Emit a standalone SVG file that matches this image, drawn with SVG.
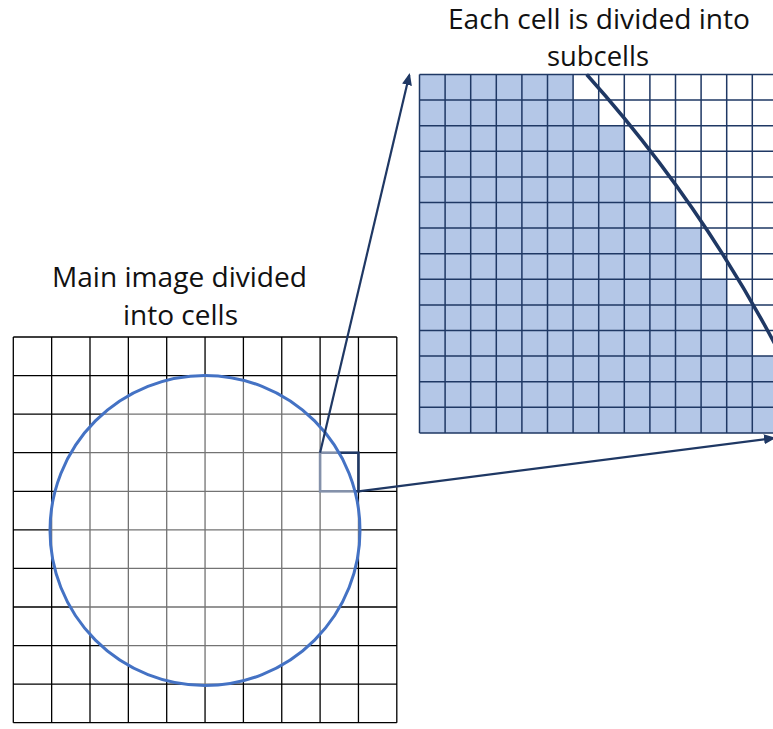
<svg xmlns="http://www.w3.org/2000/svg" width="773" height="729" viewBox="0 0 773 729">
<style>
.lbl{font-family:"Open Sans","Liberation Sans",sans-serif;font-size:26.5px;fill:#111;text-anchor:middle}
.g-main{stroke:#000;stroke-width:1.3;fill:none}
.g-sub{stroke:#1F3864;stroke-width:1.5;fill:none}
.conn{stroke:#1F3864;stroke-width:2.2;fill:none}
</style>
<defs>
<marker id="ah" viewBox="0 0 12 10" refX="10" refY="5" markerWidth="12" markerHeight="10" markerUnits="userSpaceOnUse" orient="auto">
<path d="M0,0 L12,5 L0,10 z" fill="#1F3864"/>
</marker>
</defs>
<rect width="773" height="729" fill="#fff"/>

<g id="label-sub">
<text class="lbl" x="599" y="28.6" textLength="302" lengthAdjust="spacingAndGlyphs">Each cell is divided into</text>
<text class="lbl" x="598" y="66" textLength="102" lengthAdjust="spacingAndGlyphs">subcells</text>
</g>
<g id="label-main">
<text class="lbl" x="179.5" y="286.5" textLength="255" lengthAdjust="spacingAndGlyphs">Main image divided</text>
<text class="lbl" x="180.5" y="325" textLength="115" lengthAdjust="spacingAndGlyphs">into cells</text>
</g>

<g id="detail-grid">
<polygon fill="#B4C7E7" points="419.5,74.5 573.1,74.5 573.1,100.1 598.7,100.1 598.7,125.7 624.3,125.7 624.3,151.3 649.9,151.3 649.9,202.5 675.5,202.5 675.5,228.1 701.1,228.1 701.1,279.3 726.7,279.3 726.7,304.9 752.3,304.9 752.3,356.1 777.9,356.1 777.9,432.9 419.5,432.9"/>
<path class="g-sub" d="M419.5 74.5V432.9M445.1 74.5V432.9M470.7 74.5V432.9M496.3 74.5V432.9M521.9 74.5V432.9M547.5 74.5V432.9M573.1 74.5V432.9M598.7 74.5V432.9M624.3 74.5V432.9M649.9 74.5V432.9M675.5 74.5V432.9M701.1 74.5V432.9M726.7 74.5V432.9M752.3 74.5V432.9M777.9 74.5V432.9
M419.5 74.5H777.9M419.5 100.1H777.9M419.5 125.7H777.9M419.5 151.3H777.9M419.5 176.9H777.9M419.5 202.5H777.9M419.5 228.1H777.9M419.5 253.7H777.9M419.5 279.3H777.9M419.5 304.9H777.9M419.5 330.5H777.9M419.5 356.1H777.9M419.5 381.7H777.9M419.5 407.3H777.9M419.5 432.9H777.9"/>
<path d="M586.7 74.5 A1356 1356 0 0 1 778 350" fill="none" stroke="#1F3864" stroke-width="3.5"/>
</g>

<g id="main-grid">
<path class="g-main" d="M13.3 337V722.7M51.65 337V722.7M90 337V722.7M128.35 337V722.7M166.7 337V722.7M205.05 337V722.7M243.4 337V722.7M281.75 337V722.7M320.1 337V722.7M358.45 337V722.7M396.8 337V722.7
M13.3 337H396.8M13.3 375.6H396.8M13.3 414.2H396.8M13.3 452.7H396.8M13.3 491.3H396.8M13.3 529.9H396.8M13.3 568.4H396.8M13.3 607H396.8M13.3 645.6H396.8M13.3 684.1H396.8M13.3 722.7H396.8"/>
</g>

<g id="selected-cell">
<rect x="320.1" y="452.7" width="38.35" height="38.6" fill="none" stroke="#1F3864" stroke-width="2.6"/>
</g>

<g id="circle">
<circle cx="205" cy="530.5" r="155" fill="#fff" fill-opacity="0.45" stroke="#4472C4" stroke-width="3"/>
</g>

<g id="connectors">
<line class="conn" x1="320.1" y1="452.7" x2="409.3" y2="75" marker-end="url(#ah)"/>
<line class="conn" x1="358.45" y1="491.3" x2="774" y2="438" marker-end="url(#ah)"/>
</g>
</svg>
